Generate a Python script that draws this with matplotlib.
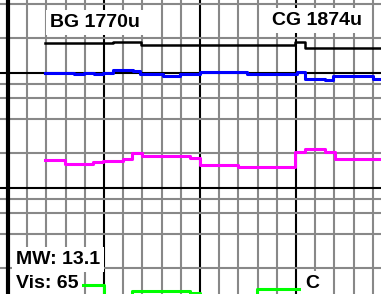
import numpy as np
import matplotlib
matplotlib.use('Agg')
import matplotlib.pyplot as plt
from matplotlib.ticker import MultipleLocator, LogLocator, NullFormatter

# step traces (x = start of each step, value held until next x)
x_end = 19.43

bg_x = [1.93, 5.48, 6.93, 14.95, 15.47]
bg_v = [18.1, 18.7, 17.4, 18.7, 16.6]

c1_x = [1.93, 3.43, 3.94, 4.46, 4.97, 5.49, 6.53, 6.88, 8.09, 8.96, 10.0, 12.43,
        15.04, 15.47, 16.51, 16.95, 19.03]
c1_v = [10.06, 9.8, 10.06, 9.75, 10.06, 10.55, 10.3, 9.86, 9.42, 9.75, 10.1, 9.7,
        10.2, 8.9, 8.65, 9.33, 8.95]

c2_x = [1.93, 2.97, 4.44, 4.97, 6.01, 6.44, 6.96, 9.48, 10.0, 12.0, 14.95, 15.47,
        16.51, 17.03]
c2_v = [1.75, 1.63, 1.67, 1.73, 1.79, 2.0, 1.9, 1.81, 1.575, 1.52, 2.07, 2.17,
        2.07, 1.8]

c3_x = [1.93, 5.0, 6.46, 9.48, 10.0, 12.97, 15.31]
c3_v = [0.143, 0.1, 0.127, 0.121, 0.1, 0.1315, 0.1]

labels_top = ['BG 1770u', 'CG 1874u']
mw_text = 'MW: 13.1'
vis_text = 'Vis: 65'
conn_text = 'C'

fig = plt.figure(figsize=(3.81, 2.94), dpi=100)
ax = fig.add_axes([0, 0, 1, 1])
ax.set_yscale('log')
ax.set_xlim(-0.4167, x_end)
ax.set_ylim(0.1197, 43.1)

ax.xaxis.set_major_locator(MultipleLocator(5))
ax.xaxis.set_minor_locator(MultipleLocator(1))
ax.yaxis.set_major_locator(LogLocator(base=10, subs=[1.0]))
ax.yaxis.set_minor_locator(LogLocator(base=10, subs=[2, 4, 6, 8]))
ax.yaxis.set_minor_formatter(NullFormatter())

ax.grid(which='minor', color='#888888', lw=1.5, zorder=0)
ax.grid(which='major', color='black', lw=1.5, zorder=1)
ax.set_axisbelow(True)
ax.axvline(0, color='black', lw=3, zorder=1)

ax.tick_params(which='both', length=0, labelbottom=False, labelleft=False)
for s in ax.spines.values():
    s.set_visible(False)


def trace(xs, vs, color, lw):
    ax.step(xs + [x_end], vs + [vs[-1]], where='post', color=color, lw=lw, zorder=3)


trace(bg_x, bg_v, 'black', 1.8)
trace(c1_x, c1_v, '#0000ff', 2.2)
trace(c2_x, c2_v, '#ff00ff', 2.2)
trace(c3_x, c3_v, '#00ff00', 2.2)

box = dict(boxstyle='square,pad=0.2', fc='white', ec='none')
kw = dict(transform=ax.transAxes, fontsize=14, fontweight='bold',
          family='Liberation Sans', va='baseline', ha='left', bbox=box, zorder=5)
ax.text(0.131, 0.907, labels_top[0], **kw)
ax.text(0.714, 0.915, labels_top[1], **kw)
ax.text(0.042, 0.102, mw_text, **kw)
ax.text(0.042, 0.0204, vis_text, **kw)
ax.text(0.80, 0.0204, conn_text, **kw)

fig.savefig('out.png', dpi=100)
